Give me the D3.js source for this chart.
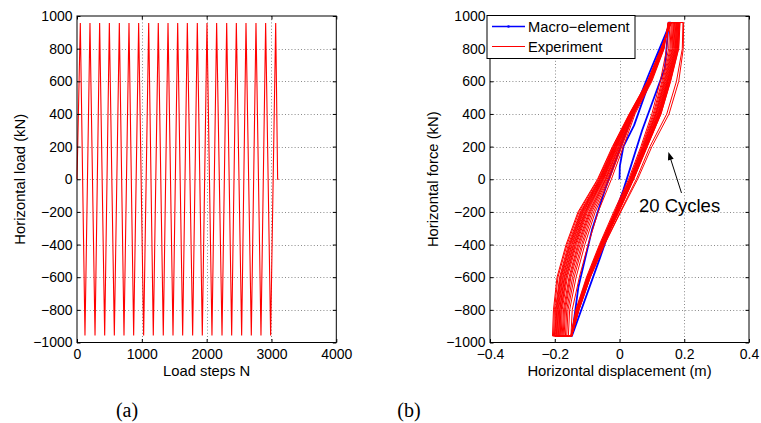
<!DOCTYPE html>
<html><head><meta charset="utf-8">
<script src="https://cdn.jsdelivr.net/npm/d3@7"></script>
<style>
body{margin:0;background:#fff}
svg{display:block}
</style>
</head><body>
<svg id="c" width="761" height="423"></svg>
<script>
// ---------------- DATA ----------------
const loadTicks = [-1000,-800,-600,-400,-200,0,200,400,600,800,1000];
const stepTicks = [0,1000,2000,3000,4000];
const stepTickLabels = ["0","1000","2000","3000","4000"];
const dispTicks = [-0.4,-0.2,0,0.2,0.4];
const dispTickLabels = ["\u22120.4","\u22120.2","0","0.2","0.4"];

// Panel (a): turning points of the load history
const loadSteps = [0,51,123,200,278,349,427,499,576,653,725,802,874,951,1028,1106,1177,1254,1331,1404,1481,1553,1630,1702,1784,1856,1933,2005,2082,2154,2237,2309,2386,2458,2540,2607,2689,2761,2838,2910,2987,3065,3095,3110];
const loadValues = [0,957,-957,957,-957,957,-957,957,-957,957,-957,957,-957,957,-957,957,-957,957,-957,957,-957,957,-957,957,-957,957,-957,957,-957,957,-957,957,-957,957,-957,957,-957,957,-957,957,-957,957,0,0];

// Panel (b): macro-element response
const macroDisp  = [0,0.001,0.012,0.045,0.157,0.152,0.140,0.070,0.012,-0.060,-0.147,-0.147,-0.127,-0.085,-0.045,0.020,0.090,0.157];
const macroForce = [0,80,200,330,960,960,680,300,-65,-480,-960,-960,-660,-310,-65,290,640,960];

// Panel (b): experiment, 20 cycles; displacement at force levels
const loadForceLevels   = [-960,-800,-600,-400,-200,0,200,400,600,800,960];
const unloadForceLevels = [960,800,600,400,200,0,-200,-400,-600,-800,-960];
const expUnloadDisp = [
 [.150,.146,.126,.100,.066,.028,-.018,-.062,-.102,-.135,-.150],
 [.156,.152,.131,.104,.069,.031,-.015,-.060,-.100,-.134,-.150],
 [.160,.156,.134,.107,.071,.032,-.014,-.059,-.099,-.133,-.150],
 [.163,.159,.137,.110,.073,.033,-.013,-.058,-.098,-.132,-.149],
 [.166,.162,.139,.112,.074,.035,-.011,-.057,-.098,-.131,-.149],
 [.168,.164,.141,.113,.075,.036,-.010,-.056,-.097,-.131,-.149],
 [.170,.166,.143,.115,.076,.036,-.010,-.055,-.096,-.130,-.149],
 [.172,.168,.145,.117,.078,.038,-.008,-.055,-.096,-.130,-.149],
 [.174,.170,.147,.119,.079,.038,-.008,-.054,-.095,-.129,-.149],
 [.176,.172,.148,.120,.079,.039,-.007,-.053,-.095,-.129,-.149],
 [.177,.173,.149,.121,.080,.040,-.006,-.053,-.094,-.128,-.149],
 [.179,.175,.150,.122,.081,.040,-.006,-.052,-.094,-.128,-.149],
 [.180,.176,.152,.123,.082,.041,-.005,-.052,-.093,-.128,-.149],
 [.182,.178,.153,.124,.083,.042,-.004,-.051,-.093,-.127,-.148],
 [.183,.179,.154,.125,.083,.042,-.004,-.051,-.093,-.127,-.148],
 [.184,.180,.156,.126,.084,.043,-.003,-.051,-.092,-.127,-.148],
 [.186,.182,.157,.128,.085,.043,-.003,-.050,-.092,-.126,-.148],
 [.187,.183,.158,.128,.086,.044,-.002,-.050,-.091,-.126,-.148],
 [.196,.194,.176,.146,.094,.052,.002,-.047,-.090,-.125,-.148],
 [.198,.197,.183,.153,.100,.056,.004,-.046,-.090,-.125,-.148]
];
const expLoadDisp = [
 [-.150,-.146,-.124,-.097,-.066,-.025,.012,.048,.100,.138,.150],
 [-.158,-.154,-.134,-.107,-.075,-.031,.007,.045,.098,.137,.151],
 [-.163,-.159,-.140,-.113,-.080,-.035,.004,.044,.097,.136,.152],
 [-.167,-.163,-.145,-.117,-.085,-.038,.002,.043,.096,.135,.153],
 [-.171,-.167,-.150,-.122,-.089,-.041,-.001,.041,.095,.134,.154],
 [-.174,-.170,-.153,-.126,-.092,-.043,-.002,.040,.094,.134,.154],
 [-.177,-.173,-.156,-.129,-.095,-.045,-.004,.040,.093,.133,.155],
 [-.180,-.177,-.161,-.133,-.099,-.048,-.006,.038,.093,.133,.155],
 [-.183,-.180,-.164,-.136,-.102,-.050,-.008,.038,.092,.132,.156],
 [-.185,-.181,-.166,-.138,-.104,-.051,-.009,.037,.091,.132,.156],
 [-.187,-.184,-.169,-.141,-.106,-.053,-.010,.036,.091,.131,.157],
 [-.189,-.185,-.171,-.143,-.108,-.054,-.011,.036,.090,.131,.157],
 [-.191,-.188,-.174,-.146,-.111,-.056,-.012,.035,.090,.131,.157],
 [-.193,-.190,-.176,-.148,-.113,-.057,-.014,.034,.089,.130,.158],
 [-.195,-.192,-.179,-.151,-.115,-.059,-.015,.034,.089,.130,.158],
 [-.197,-.194,-.181,-.153,-.117,-.060,-.016,.033,.089,.130,.158],
 [-.199,-.196,-.183,-.155,-.119,-.062,-.017,.033,.088,.129,.159],
 [-.201,-.198,-.185,-.158,-.121,-.063,-.018,.032,.088,.129,.159],
 [-.204,-.201,-.190,-.162,-.125,-.066,-.020,.031,.087,.128,.160],
 [-.207,-.204,-.193,-.165,-.128,-.068,-.022,.030,.086,.128,.160]
];
const legendLabels = ["Macro\u2212element","Experiment"];
const annotation = {text:"20 Cycles", tx:0.060, tf:-198, ax:0.1915, af:-84, hx:0.151, hf:167};

// ---------------- DRAWING ----------------
const FONT = "'Liberation Sans', Arial, Helvetica, sans-serif";
const svg = d3.select("#c");
const RED = "#ff0000", BLUE = "#0000ff";

function drawPanel(o){
  const g = svg.append("g");
  const x = o.x, y = o.y;
  const [x0,x1] = x.range(), [y0,y1] = y.range(); // y0 bottom, y1 top
  // grid
  const grid = g.append("g").attr("stroke","#8a8a8a").attr("stroke-width",1).attr("stroke-dasharray","1,2.2");
  o.xTicks.slice(1,-1).forEach(v=>grid.append("line").attr("x1",Math.round(x(v))+0.5).attr("x2",Math.round(x(v))+0.5).attr("y1",y1).attr("y2",y0));
  o.yTicks.slice(1,-1).forEach(v=>grid.append("line").attr("x1",x0).attr("x2",x1).attr("y1",Math.round(y(v))+0.5).attr("y2",Math.round(y(v))+0.5));
  // data
  o.plot(g.append("g"));
  // axes
  const style = s => { s.select(".domain").remove(); s.selectAll("line").attr("stroke","#000");
    s.selectAll("text").attr("font-family",FONT).attr("font-size",14).attr("fill","#000"); };
  g.append("g").attr("transform",`translate(0,${y0})`)
    .call(d3.axisBottom(x).tickValues(o.xTicks).tickFormat((d,i)=>o.xLabels[i]).tickSizeInner(-3.5).tickSizeOuter(0).tickPadding(7)).call(style);
  g.append("g").attr("transform",`translate(0,${y1})`)
    .call(d3.axisTop(x).tickValues(o.xTicks).tickFormat("").tickSizeInner(-3.5).tickSizeOuter(0)).call(style);
  g.append("g").attr("transform",`translate(${x0},0)`)
    .call(d3.axisLeft(y).tickValues(o.yTicks).tickFormat(d=>d<0?"\u2212"+Math.abs(d):String(d)).tickSizeInner(-3.5).tickSizeOuter(0).tickPadding(4.5)).call(style);
  g.append("g").attr("transform",`translate(${x1},0)`)
    .call(d3.axisRight(y).tickValues(o.yTicks).tickFormat("").tickSizeInner(-3.5).tickSizeOuter(0)).call(style);
  // box
  g.append("rect").attr("x",x0).attr("y",y1).attr("width",x1-x0).attr("height",y0-y1)
    .attr("fill","none").attr("stroke","#000").attr("stroke-width",1);
  // labels
  g.append("text").attr("x",(x0+x1)/2).attr("y",375.5).attr("text-anchor","middle")
    .attr("font-family",FONT).attr("font-size",14.8).text(o.xTitle);
  g.append("text").attr("transform",`translate(${o.yTitleX},${(y0+y1)/2}) rotate(-90)`).attr("text-anchor","middle")
    .attr("font-family",FONT).attr("font-size",14.8).text(o.yTitle);
  g.append("text").attr("x",o.capX).attr("y",417).attr("text-anchor","middle")
    .attr("font-family","'Liberation Serif','DejaVu Serif',serif").attr("font-size",20).text(o.caption);
  return g;
}

// Panel (a)
const xa = d3.scaleLinear().domain([0,4000]).range([77,336.3]);
const ya = d3.scaleLinear().domain([-1000,1000]).range([342.5,16]);
drawPanel({x:xa,y:ya,xTicks:stepTicks,xLabels:stepTickLabels,yTicks:loadTicks,
  xTitle:"Load steps N", yTitle:"Horizontal load (kN)", yTitleX:25, capX:127, caption:"(a)",
  plot:(g)=>{
    const pts = loadSteps.map((s,i)=>[s,loadValues[i]]);
    g.append("path").attr("d",d3.line().x(d=>xa(d[0])).y(d=>ya(d[1]))(pts))
      .attr("fill","none").attr("stroke",RED).attr("stroke-width",1.1);
  }});

// Panel (b)
const xb = d3.scaleLinear().domain([-0.4,0.4]).range([490,749]);
const yb = d3.scaleLinear().domain([-1000,1000]).range([342.5,16]);
const gb = drawPanel({x:xb,y:yb,xTicks:dispTicks,xLabels:dispTickLabels,yTicks:loadTicks,
  xTitle:"Horizontal displacement (m)", yTitle:"Horizontal force (kN)", yTitleX:438, capX:409, caption:"(b)",
  plot:(g)=>{
    const line = d3.line().x(d=>xb(d[0])).y(d=>yb(d[1]));
    const mpts = macroDisp.map((v,i)=>[v,macroForce[i]]);
    g.append("path").attr("d",line(mpts)).attr("fill","none").attr("stroke",BLUE).attr("stroke-width",1.8).attr("stroke-linejoin","round");
    const epts = [];
    expUnloadDisp.forEach((row,k)=>{
      row.forEach((v,i)=>epts.push([v,unloadForceLevels[i]]));
      expLoadDisp[k].forEach((v,i)=>epts.push([v,loadForceLevels[i]]));
    });
    g.append("path").attr("d",line(epts)).attr("fill","none").attr("stroke",RED).attr("stroke-width",1).attr("stroke-linejoin","round");
    // annotation
    const hx=xb(annotation.hx), hy=yb(annotation.hf), ax=xb(annotation.ax), ay=yb(annotation.af);
    const ang=Math.atan2(hy-ay,hx-ax), L=8, W=3;
    g.append("line").attr("x1",ax).attr("y1",ay).attr("x2",hx-Math.cos(ang)*L*0.6).attr("y2",hy-Math.sin(ang)*L*0.6).attr("stroke","#000").attr("stroke-width",1);
    const bx=hx-Math.cos(ang)*L, by=hy-Math.sin(ang)*L;
    g.append("path").attr("d",`M${hx},${hy}L${bx-Math.sin(ang)*W},${by+Math.cos(ang)*W}L${bx+Math.sin(ang)*W},${by-Math.cos(ang)*W}Z`).attr("fill","#000");
    g.append("text").attr("x",xb(annotation.tx)).attr("y",yb(annotation.tf)).attr("font-family",FONT).attr("font-size",18.5).text(annotation.text);
  }});

// Legend
const lg = svg.append("g");
lg.append("rect").attr("x",487).attr("y",15.5).attr("width",148).attr("height",43).attr("fill","#fff").attr("stroke","#000").attr("stroke-width",1);
[BLUE,RED].forEach((c,i)=>{
  const yy = 26.5 + i*20;
  lg.append("line").attr("x1",492).attr("x2",525).attr("y1",yy).attr("y2",yy).attr("stroke",c).attr("stroke-width",i===0?1.5:1);
  if(i===0) lg.append("circle").attr("cx",508.5).attr("cy",yy).attr("r",1.3).attr("fill",c);
  lg.append("text").attr("x",528).attr("y",yy+5).attr("font-family",FONT).attr("font-size",14.7).text(legendLabels[i]);
});
</script>
</body></html>
